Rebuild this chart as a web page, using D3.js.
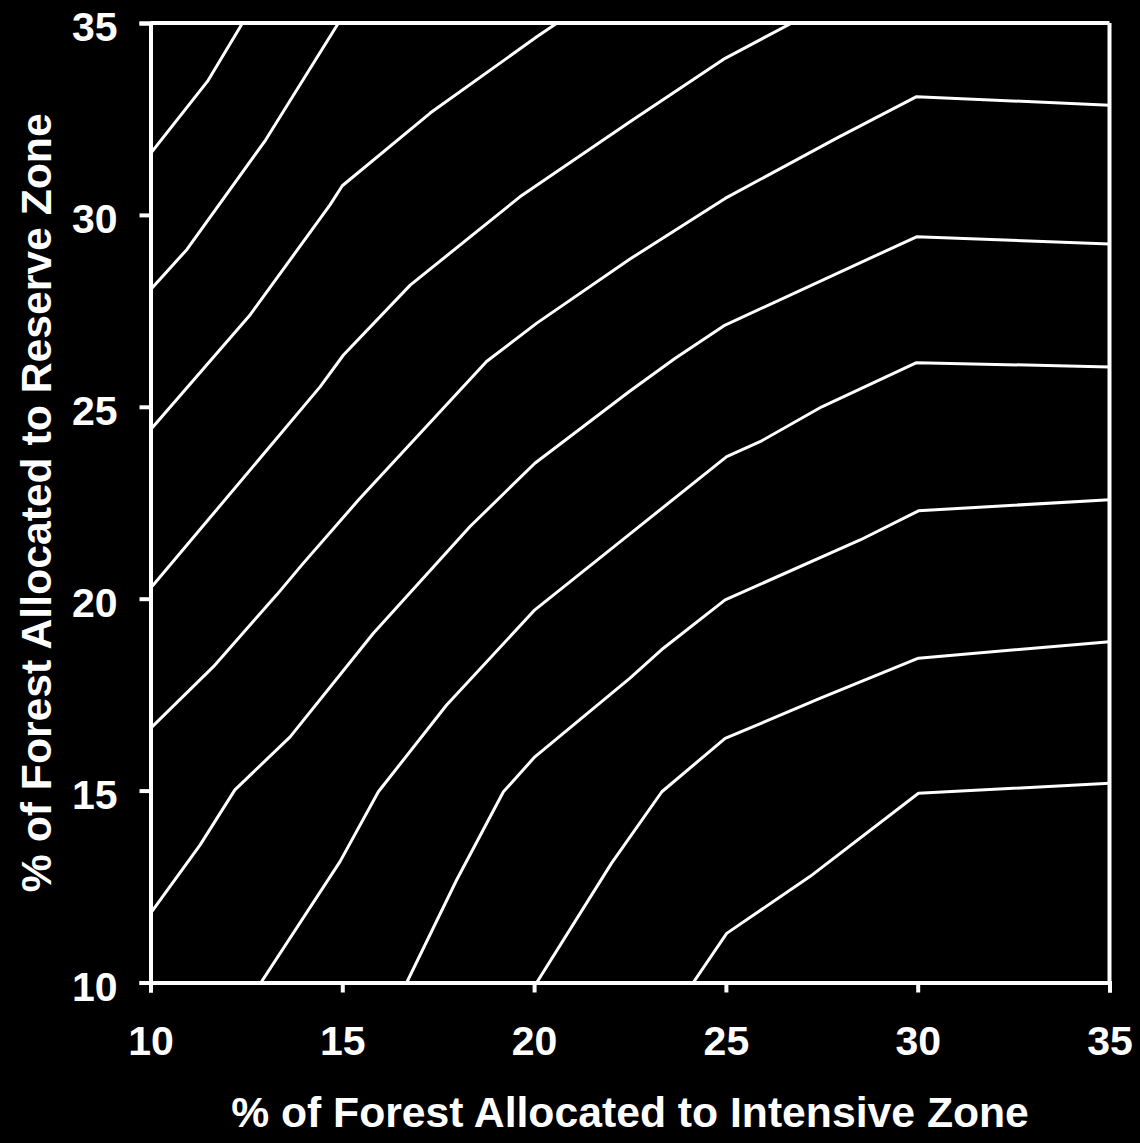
<!DOCTYPE html>
<html>
<head>
<meta charset="utf-8">
<script src="https://cdn.jsdelivr.net/npm/d3@7"></script>
<style>
  html, body { margin: 0; padding: 0; background: #000; }
  svg { display: block; }
  text { font-family: "Liberation Sans", Arial, Helvetica, sans-serif; font-weight: bold; fill: #fff; }
</style>
</head>
<body>
<svg id="chart" width="1140" height="1143"></svg>
<script>
// ---- data (x = % Intensive Zone, y = % Reserve Zone) ----
const xTicks = [10, 15, 20, 25, 30, 35];
const yTicks = [10, 15, 20, 25, 30, 35];
const xTitle = "% of Forest Allocated to Intensive Zone";
const yTitle = "% of Forest Allocated to Reserve Zone";

const contour1 = [[10, 31.6], [11.5, 33.5], [12.4, 35]];
const contour2 = [[10, 28.05], [10.95, 29.1], [13.0, 31.95], [14.9, 35]];
const contour3 = [[10, 24.4], [12.6, 27.4], [14.68, 30.26], [15.0, 30.76], [17.3, 32.66], [20.07, 34.64], [20.6, 35]];
const contour4 = [[10, 20.27], [14.42, 25.52], [15.03, 26.35], [16.77, 28.17], [19.63, 30.47], [22.5, 32.43], [24.98, 34.08], [26.72, 35]];
const contour5 = [[10, 16.62], [11.64, 18.23], [13.29, 20.1], [13.98, 20.92], [15.42, 22.57], [18.76, 26.18], [20.07, 27.18], [22.5, 28.85], [24.98, 30.43], [27.89, 32.0], [29.97, 33.08], [35, 32.86]];
const contour6 = [[10, 11.8], [11.29, 13.58], [12.2, 15.02], [13.64, 16.4], [15.81, 19.1], [18.33, 21.88], [20.02, 23.53], [22.5, 25.41], [23.67, 26.26], [24.98, 27.13], [29.97, 29.43], [35, 29.24]];
const contour7 = [[12.88, 10], [14.94, 13.15], [15.94, 14.97], [17.72, 17.23], [20.02, 19.71], [22.5, 21.69], [25.02, 23.7], [25.89, 24.09], [27.5, 25.0], [29.97, 26.15], [35, 26.04]];
const contour8 = [[16.68, 10], [17.98, 12.67], [19.2, 14.97], [20.02, 15.88], [22.5, 17.93], [23.37, 18.71], [24.98, 19.97], [28.5, 21.53], [30.02, 22.29], [35, 22.58]];
const contour9 = [[20.07, 10], [22.02, 13.11], [23.33, 14.97], [24.98, 16.36], [27.45, 17.4], [30.02, 18.45], [35, 18.88]];
const contour10 = [[24.15, 10], [25.02, 11.28], [27.19, 12.76], [30.02, 14.93], [35, 15.19]];
const contours = [contour1, contour2, contour3, contour4, contour5, contour6, contour7, contour8, contour9, contour10];

// ---- layout ----
const plotLeft = 150.5, plotRight = 1109.5, plotTop = 23, plotBottom = 982.5;
const svg = d3.select("#chart");
const x = d3.scaleLinear().domain([10, 35]).range([plotLeft, plotRight]);
const y = d3.scaleLinear().domain([10, 35]).range([plotBottom, plotTop]);

svg.append("rect").attr("width", 1140).attr("height", 1143).attr("fill", "#000");

svg.append("defs").append("clipPath").attr("id", "plotclip")
  .append("rect").attr("x", plotLeft).attr("y", plotTop)
  .attr("width", plotRight - plotLeft).attr("height", plotBottom - plotTop);

const line = d3.line().x(d => x(d[0])).y(d => y(d[1]));
svg.append("g").attr("clip-path", "url(#plotclip)")
  .selectAll("path").data(contours).join("path")
  .attr("d", line)
  .attr("fill", "none")
  .attr("stroke", "#fff")
  .attr("stroke-width", 3)
  .attr("stroke-linejoin", "round");

// frame (top and right border)
svg.append("line").attr("x1", plotLeft).attr("x2", plotRight).attr("y1", plotTop).attr("y2", plotTop)
  .attr("stroke", "#fff").attr("stroke-width", 4);
svg.append("line").attr("x1", plotRight).attr("x2", plotRight).attr("y1", plotTop).attr("y2", plotBottom)
  .attr("stroke", "#fff").attr("stroke-width", 4);

// axes
const xAxis = d3.axisBottom(x).tickValues(xTicks).tickSize(10).tickPadding(0).tickFormat(d3.format("d"));
const yAxis = d3.axisLeft(y).tickValues(yTicks).tickSize(11).tickPadding(0).tickFormat(d3.format("d"));

const gx = svg.append("g").attr("transform", `translate(0,${plotBottom})`).call(xAxis);
const gy = svg.append("g").attr("transform", `translate(${plotLeft},0)`).call(yAxis);

[gx, gy].forEach(g => {
  g.select(".domain").attr("stroke", "#fff").attr("stroke-width", 4);
  g.selectAll(".tick line").attr("stroke", "#fff").attr("stroke-width", 4);
  g.selectAll(".tick text").attr("fill", "#fff")
    .style("font-family", '"Liberation Sans", Arial, sans-serif')
    .style("font-weight", "bold").style("font-size", "41px");
});
gx.selectAll(".tick text").attr("y", 72).attr("dy", 0);
gy.selectAll(".tick text").attr("x", -33).attr("dy", 17.5);

// titles
svg.append("text").attr("x", (plotLeft + plotRight) / 2).attr("y", 1127)
  .attr("text-anchor", "middle").style("font-size", "42.7px").text(xTitle);
svg.append("text").attr("transform", `translate(51,${(plotTop + plotBottom) / 2}) rotate(-90)`)
  .attr("text-anchor", "middle").style("font-size", "42.7px").text(yTitle);
</script>
</body>
</html>
